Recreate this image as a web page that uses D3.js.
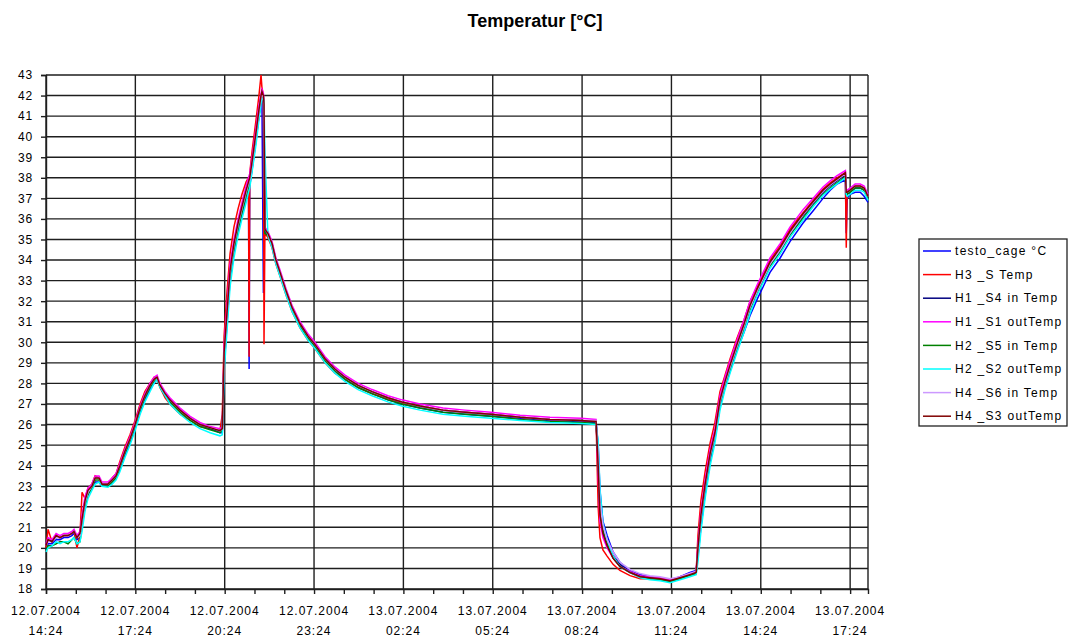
<!DOCTYPE html>
<html><head><meta charset="utf-8">
<script src="https://cdn.jsdelivr.net/npm/d3@7"></script>
<style>
body{margin:0;background:#fff;}
svg text{font-family:Arial,"Liberation Sans",sans-serif;fill:#000;}
</style>
</head><body>
<svg id="chart" width="1069" height="639"></svg>
<script>
// ---------------- DATA ----------------
const chartTitle = "Temperatur [°C]";
// hours since 12.07.2004 14:24
const hours = [0.00,0.07,0.20,0.34,0.47,0.60,0.74,0.87,0.94,1.04,
1.14,1.21,1.31,1.41,1.54,1.65,1.78,1.88,2.08,2.22,
2.35,2.48,2.65,2.82,2.99,3.16,3.32,3.49,3.63,3.73,
3.83,4.00,4.16,4.50,4.84,5.17,5.51,5.84,5.92,5.98,
6.08,6.18,6.31,6.45,6.58,6.72,6.80,6.82,6.84,6.92,
7.05,7.15,7.22,7.25,7.30,7.32,7.35,7.45,7.59,7.72,
7.86,8.06,8.26,8.53,8.80,9.03,9.37,9.70,10.04,10.48,
10.95,11.48,11.95,12.56,13.33,14.07,14.94,15.92,16.92,17.96,
18.47,18.54,18.60,18.70,18.84,19.04,19.27,19.61,19.95,20.28,
20.62,20.95,21.29,21.62,21.83,21.89,21.99,22.13,22.30,22.46,
22.63,22.80,22.97,23.20,23.44,23.64,23.88,24.08,24.31,24.65,
24.98,25.42,25.76,26.09,26.33,26.56,26.84,26.87,26.90,27.00,
27.17,27.34,27.47,27.60];

const testoCage = [19.9,20.2,20.2,20.4,20.4,20.5,20.5,20.6,20.7,20.4,
20.5,21.1,22.0,22.6,22.9,23.2,23.2,23.0,23.0,23.2,
23.4,23.8,24.5,25.1,25.8,26.6,27.2,27.7,28.0,28.2,
27.9,27.5,27.2,26.7,26.3,26.0,25.8,25.6,25.6,28.8,
31.0,33.0,34.4,35.4,36.2,37.0,37.4,28.7,37.6,38.4,
39.8,41.0,41.8,42.0,32.4,35.5,35.3,35.2,34.7,33.9,
33.3,32.4,31.6,30.8,30.2,29.8,29.1,28.6,28.2,27.8,
27.5,27.2,27.0,26.8,26.6,26.5,26.4,26.3,26.2,26.15,
26.1,25.0,22.8,21.3,20.6,19.8,19.3,18.9,18.7,18.6,
18.5,18.4,18.6,18.8,18.9,19.6,21.0,22.6,24.2,25.3,
26.9,27.8,28.6,29.6,30.5,31.3,32.1,32.7,33.4,34.1,
34.9,35.8,36.4,37.0,37.4,37.7,37.9,35.3,37.0,37.2,
37.3,37.3,37.1,36.8];

const h3S = [20.0,20.9,20.3,20.6,20.5,20.6,20.6,20.7,20.8,20.0,
20.6,22.7,22.4,22.9,23.1,23.5,23.4,23.1,23.1,23.4,
23.6,24.2,24.9,25.5,26.2,27.0,27.6,28.0,28.3,28.3,
27.8,27.3,27.0,26.5,26.2,25.9,25.8,25.7,26.5,30.3,
32.5,34.3,35.6,36.5,37.2,37.8,38.0,29.3,38.2,39.3,
40.8,42.0,43.0,42.4,42.0,29.9,35.3,35.1,34.6,33.8,
33.2,32.3,31.5,30.7,30.1,29.7,29.0,28.5,28.2,27.8,
27.5,27.25,27.05,26.9,26.7,26.6,26.5,26.35,26.25,26.2,
26.15,22.0,20.5,19.9,19.6,19.2,18.9,18.65,18.5,18.5,
18.45,18.35,18.5,18.7,18.8,20.6,22.3,23.7,25.1,26.1,
27.6,28.4,29.2,30.2,31.1,32.0,32.7,33.3,34.0,34.7,
35.5,36.3,36.9,37.45,37.75,38.0,38.25,34.6,37.4,37.4,
37.6,37.6,37.5,37.1];

const h1S4 = [20.2,20.4,20.3,20.5,20.5,20.6,20.6,20.7,20.8,20.5,
20.7,21.3,22.2,22.7,23.0,23.4,23.4,23.1,23.1,23.3,
23.5,24.0,24.7,25.3,26.0,26.8,27.4,27.9,28.2,28.3,
27.9,27.5,27.2,26.7,26.3,26.0,25.8,25.7,25.8,29.3,
31.4,33.4,34.7,35.7,36.5,37.3,37.7,37.8,37.9,38.7,
40.1,41.2,41.9,42.1,41.9,41.4,35.4,35.3,34.8,34.0,
33.4,32.5,31.7,30.9,30.3,29.9,29.2,28.7,28.3,27.9,
27.6,27.3,27.1,26.9,26.7,26.6,26.5,26.35,26.25,26.2,
26.15,24.3,21.8,20.8,20.2,19.6,19.2,18.85,18.65,18.55,
18.5,18.4,18.55,18.7,18.8,19.9,21.5,23.0,24.5,25.5,
27.1,28.0,28.8,29.8,30.8,31.7,32.5,33.1,33.8,34.5,
35.3,36.15,36.75,37.3,37.6,37.85,38.15,37.2,37.2,37.3,
37.5,37.5,37.4,37.0];

const h1S1 = [20.2,20.5,20.4,20.7,20.6,20.7,20.7,20.8,20.9,20.6,
20.8,21.6,22.5,22.9,23.1,23.5,23.5,23.2,23.2,23.4,
23.6,24.1,24.8,25.4,26.1,26.9,27.5,28.0,28.3,28.4,
28.0,27.6,27.3,26.8,26.4,26.1,25.9,25.8,25.9,29.8,
31.8,33.8,35.0,36.0,36.8,37.6,38.0,38.1,38.2,39.0,
40.4,41.5,42.1,42.3,42.1,41.5,35.6,35.4,34.9,34.1,
33.5,32.6,31.8,31.0,30.4,30.0,29.3,28.8,28.4,28.0,
27.7,27.4,27.2,27.0,26.8,26.7,26.6,26.45,26.35,26.3,
26.25,23.5,21.3,20.5,20.0,19.5,19.1,18.85,18.65,18.6,
18.55,18.45,18.6,18.75,18.85,20.2,21.8,23.3,24.8,25.8,
27.4,28.3,29.1,30.1,31.1,32.0,32.8,33.4,34.1,34.8,
35.6,36.45,37.0,37.55,37.85,38.1,38.35,37.4,37.4,37.5,
37.7,37.7,37.6,37.2];

const h2S5 = [19.9,20.1,20.1,20.2,20.3,20.3,20.2,20.4,20.5,20.2,
20.3,21.1,22.0,22.6,22.9,23.3,23.3,23.0,23.0,23.2,
23.4,23.9,24.6,25.2,25.9,26.7,27.3,27.8,28.1,28.2,
27.8,27.4,27.1,26.6,26.2,25.9,25.75,25.6,25.7,29.2,
31.2,33.2,34.5,35.5,36.3,37.1,37.5,37.6,37.7,38.5,
39.9,41.0,41.7,41.9,41.8,41.2,35.3,35.2,34.7,33.9,
33.3,32.4,31.6,30.8,30.2,29.8,29.1,28.6,28.2,27.8,
27.5,27.2,27.0,26.8,26.6,26.5,26.4,26.25,26.15,26.1,
26.05,24.2,21.9,20.9,20.2,19.5,19.1,18.8,18.6,18.5,
18.45,18.35,18.5,18.65,18.75,19.8,21.4,22.9,24.4,25.4,
27.0,27.9,28.7,29.7,30.7,31.6,32.4,33.0,33.7,34.4,
35.2,36.05,36.65,37.2,37.5,37.75,38.05,37.2,37.2,37.3,
37.5,37.5,37.4,37.0];

const h2S2 = [19.8,20.0,20.1,20.3,20.2,20.3,20.3,20.4,20.5,20.2,
20.3,20.8,21.8,22.4,22.8,23.1,23.2,23.0,22.95,23.1,
23.3,23.7,24.4,25.0,25.7,26.5,27.1,27.6,28.0,28.2,
27.8,27.4,27.0,26.5,26.1,25.8,25.6,25.45,25.5,28.5,
30.6,32.7,34.1,35.2,36.0,36.8,37.3,37.4,37.5,38.3,
39.6,40.8,41.6,41.9,41.8,41.7,39.3,35.2,34.6,33.8,
33.2,32.3,31.5,30.7,30.1,29.7,29.0,28.5,28.1,27.7,
27.4,27.1,26.9,26.7,26.5,26.4,26.3,26.2,26.1,26.05,
26.0,25.2,22.9,21.2,20.4,19.6,19.1,18.8,18.55,18.45,
18.4,18.3,18.45,18.6,18.7,19.3,20.8,22.4,24.0,25.1,
26.7,27.7,28.5,29.5,30.5,31.4,32.3,32.9,33.6,34.3,
35.1,35.95,36.6,37.15,37.45,37.7,38.0,37.2,37.1,37.2,
37.4,37.4,37.3,36.9];

const h4S6 = [20.1,20.3,20.3,20.5,20.5,20.6,20.6,20.7,20.8,20.5,
20.6,21.3,22.2,22.7,23.0,23.4,23.4,23.1,23.1,23.3,
23.5,24.0,24.7,25.3,26.0,26.8,27.4,27.9,28.2,28.3,
27.9,27.5,27.2,26.7,26.3,26.0,25.85,25.7,25.8,29.4,
31.4,33.4,34.7,35.7,36.5,37.3,37.7,37.8,37.9,38.7,
40.1,41.2,41.9,42.1,41.9,41.4,35.5,35.3,34.8,34.0,
33.4,32.5,31.7,30.9,30.3,29.9,29.2,28.7,28.3,27.9,
27.6,27.3,27.1,26.9,26.7,26.6,26.5,26.35,26.25,26.2,
26.2,24.5,22.2,21.1,20.4,19.8,19.3,18.95,18.75,18.65,
18.6,18.5,18.6,18.75,18.85,19.9,21.5,23.0,24.5,25.5,
27.1,28.0,28.8,29.8,30.8,31.7,32.5,33.1,33.8,34.5,
35.3,36.2,36.8,37.35,37.65,37.9,38.2,37.3,37.3,37.4,
37.6,37.6,37.5,37.1];

const h4S3 = [20.1,20.4,20.3,20.6,20.5,20.6,20.6,20.7,20.8,20.5,
20.7,21.4,22.3,22.8,23.0,23.4,23.4,23.1,23.1,23.3,
23.5,24.0,24.7,25.3,26.0,26.8,27.4,27.9,28.2,28.3,
27.9,27.5,27.2,26.7,26.3,26.0,25.85,25.7,25.8,29.5,
31.5,33.5,34.8,35.8,36.6,37.4,37.8,37.9,38.0,38.8,
40.2,41.3,42.0,42.2,42.0,41.6,35.5,35.3,34.8,34.0,
33.4,32.5,31.7,30.9,30.3,29.9,29.2,28.7,28.3,27.9,
27.6,27.3,27.1,26.9,26.7,26.6,26.5,26.35,26.25,26.2,
26.15,24.0,21.6,20.7,20.1,19.5,19.1,18.8,18.6,18.55,
18.5,18.4,18.55,18.7,18.8,20.0,21.6,23.1,24.6,25.6,
27.2,28.1,28.9,29.9,30.9,31.8,32.6,33.2,33.9,34.6,
35.4,36.25,36.85,37.4,37.7,37.95,38.25,37.3,37.3,37.4,
37.6,37.6,37.5,37.1];

const seriesNames = ["testo_cage °C","H3 _S Temp","H1 _S4 in Temp","H1 _S1 outTemp",
  "H2 _S5 in Temp","H2 _S2 outTemp","H4 _S6 in Temp","H4 _S3 outTemp"];
const seriesValues = [testoCage,h3S,h1S4,h1S1,h2S5,h2S2,h4S6,h4S3];

const yTicks = [18,19,20,21,22,23,24,25,26,27,28,29,30,31,32,33,34,35,36,37,38,39,40,41,42,43];
const xMinorTicks = [0,1,2,3,4,5,6,7,8,9,10,11,12,13,14,15,16,17,18,19,20,21,22,23,24,25,26,27];
const xMajorTicks = [0,3,6,9,12,15,18,21,24,27];
const xTickDates = ["12.07.2004","12.07.2004","12.07.2004","12.07.2004","13.07.2004",
  "13.07.2004","13.07.2004","13.07.2004","13.07.2004","13.07.2004"];
const xTickTimes = ["14:24","17:24","20:24","23:24","02:24","05:24","08:24","11:24","14:24","17:24"];
const xEnd = 27.6;

// ---------------- STYLE ----------------
const colors = ["#0000ff","#ff0000","#000080","#ff00ff","#008000","#00ffff","#cc99ff","#800000"];
const L = 46, R = 868, T = 75, B = 589;

const svg = d3.select("#chart");
const x = d3.scaleLinear().domain([0, xEnd]).range([L, R]);
const y = d3.scaleLinear().domain([18, 43]).range([B, T]);

// title
svg.append("text").attr("x", 535).attr("y", 27).attr("text-anchor", "middle")
  .style("font-size", "18px").style("font-weight", "bold").text(chartTitle);

// horizontal grid
svg.append("g").selectAll("line").data(yTicks).join("line")
  .attr("x1", L).attr("x2", R).attr("y1", d => y(d)).attr("y2", d => y(d))
  .attr("stroke", "#1e1e1e").attr("stroke-width", 1.4);
// vertical grid
svg.append("g").selectAll("line").data(xMajorTicks).join("line")
  .attr("x1", d => x(d)).attr("x2", d => x(d)).attr("y1", T).attr("y2", B)
  .attr("stroke", "#1e1e1e").attr("stroke-width", 1.4);
// right border
svg.append("line").attr("x1", R).attr("x2", R).attr("y1", T).attr("y2", B)
  .attr("stroke", "#1e1e1e").attr("stroke-width", 1.4);

// y axis
const yAxis = svg.append("g").attr("transform", `translate(${L},0)`)
  .call(d3.axisLeft(y).tickValues(yTicks).tickSize(5).tickPadding(8).tickFormat(d3.format("d")));
yAxis.select(".domain").attr("stroke", "#1e1e1e").attr("stroke-width", 1.4);
yAxis.selectAll(".tick line").attr("stroke", "#1e1e1e").attr("stroke-width", 1.4);
yAxis.selectAll(".tick text").style("font-size", "12px").style("letter-spacing", "0.8px")
  .style("font-family", "Arial, 'Liberation Sans', sans-serif").attr("fill", "#000");

// x axis
const xAxis = svg.append("g").attr("transform", `translate(0,${B})`)
  .call(d3.axisBottom(x).tickValues(xMinorTicks).tickSize(5).tickFormat(""));
xAxis.select(".domain").attr("stroke", "#1e1e1e").attr("stroke-width", 1.4);
xAxis.selectAll(".tick line").attr("stroke", "#1e1e1e").attr("stroke-width", 1.4);

const xl = svg.append("g").selectAll("text").data(xMajorTicks).join("text")
  .attr("text-anchor", "middle").style("font-size", "12px").style("letter-spacing", "1px");
xl.append("tspan").attr("x", d => x(d)).attr("y", 615).text((d, i) => xTickDates[i]);
xl.append("tspan").attr("x", d => x(d)).attr("y", 635).text((d, i) => xTickTimes[i]);

// lines
const line = d3.line().x((d, i) => x(hours[i])).y(d => y(d));
svg.append("g").selectAll("path").data(seriesValues).join("path")
  .attr("d", d => line(d)).attr("fill", "none")
  .attr("stroke", (d, i) => colors[i]).attr("stroke-width", 1.5)
  .attr("stroke-linejoin", "miter");

// legend
const lg = svg.append("g");
lg.append("rect").attr("x", 919).attr("y", 239).attr("width", 148).attr("height", 187)
  .attr("fill", "#fff").attr("stroke", "#222").attr("stroke-width", 1.3);
const items = lg.selectAll("g.it").data(seriesNames).join("g").attr("class", "it")
  .attr("transform", (d, i) => `translate(0,${251 + i * 23.6})`);
items.append("line").attr("x1", 923).attr("x2", 951).attr("y1", 0).attr("y2", 0)
  .attr("stroke", (d, i) => colors[i]).attr("stroke-width", 1.5);
items.append("text").attr("x", 955).attr("y", 0).attr("dy", "0.35em")
  .style("font-size", "12px").style("letter-spacing", "1.3px").text(d => d);
</script>
</body></html>
